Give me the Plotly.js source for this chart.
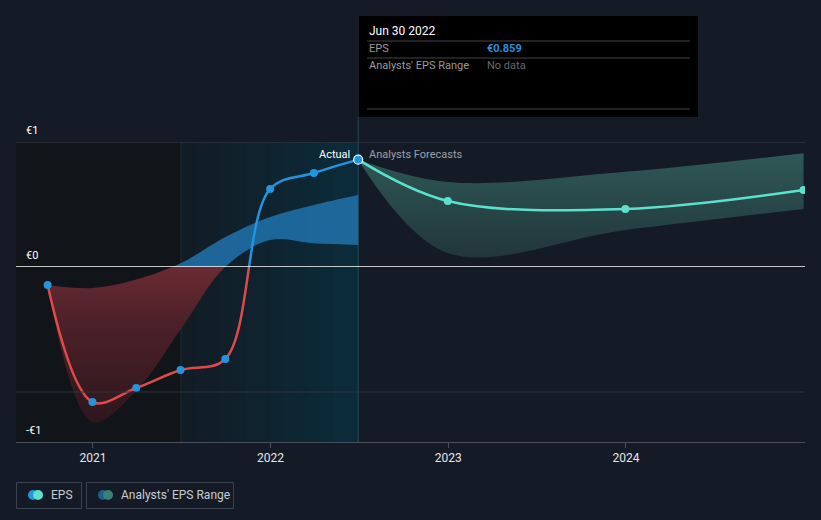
<!DOCTYPE html>
<html>
<head>
<meta charset="utf-8">
<script src="https://cdn.plot.ly/plotly-3.0.1.min.js"></script>
<style>
html,body{margin:0;padding:0;background:#151b26;}
#chart{width:821px;height:520px;}
</style>
</head>
<body>
<div id="chart"></div>
<script>
// ---- data ----
const actualDates = ['2020-09-30','2020-12-31','2021-03-31','2021-06-30','2021-09-30','2021-12-31','2022-03-31','2022-06-30'];
const actualEps   = [-0.144, -1.08, -0.968, -0.824, -0.736, 0.624, 0.752, 0.859];
const pastRangeLow  = [-0.144, -1.24, -0.99, -0.5, 0.0, 0.216, 0.19, 0.176];
const pastRangeHigh = [-0.144, -0.168, -0.1, 0.03, 0.24, 0.40, 0.496, 0.576];
const forecastDates = ['2022-06-30','2022-12-31','2023-12-31','2024-12-31'];
const forecastEps   = [0.859, 0.528, 0.464, 0.616];
const forecastLow   = [0.859, 0.112, 0.296, 0.464];
const forecastHigh  = [0.859, 0.68, 0.762, 0.91];
const xTickVals = ['2021-01-01','2022-01-01','2023-01-01','2024-01-01'];
const xTickText = ['2021','2022','2023','2024'];
const yLabels = ['€1','€0','-€1'];

// ---- styles ----
const BLUE = '#2394df', RED = '#e04a4a', TEAL = '#5ce1cf';
const FONT = 'Roboto, "Open Sans", sans-serif';

const traces = [];
// past analyst range, positive part (blue), on upper subplot
traces.push({x: actualDates, y: pastRangeLow, xaxis:'x', yaxis:'y', mode:'lines', line:{width:0, shape:'spline'}, hoverinfo:'skip'});
traces.push({x: actualDates, y: pastRangeHigh, xaxis:'x', yaxis:'y', mode:'lines', line:{width:0, shape:'spline'}, fill:'tonexty', fillcolor:'rgba(32,112,168,0.88)', hoverinfo:'skip'});
// past analyst range, negative part (red), on lower subplot
traces.push({x: actualDates, y: pastRangeLow, xaxis:'x', yaxis:'y2', mode:'lines', line:{width:0, shape:'spline'}, hoverinfo:'skip'});
traces.push({x: actualDates, y: pastRangeHigh, xaxis:'x', yaxis:'y2', mode:'lines', line:{width:0, shape:'spline'}, fill:'tonexty',
  fillgradient:{type:'vertical', colorscale:[[0,'#2e161d'],[0.45,'#4e2129'],[0.68,'#6a2a33'],[1,'#6a2a33']]}, fillcolor:'#5a2530', hoverinfo:'skip'});
// forecast range
traces.push({x: forecastDates, y: forecastLow, xaxis:'x', yaxis:'y', mode:'lines', line:{width:0, shape:'spline'}, hoverinfo:'skip'});
traces.push({x: forecastDates, y: forecastHigh, xaxis:'x', yaxis:'y', mode:'lines', line:{width:0, shape:'spline'}, fill:'tonexty',
  fillgradient:{type:'vertical', colorscale:[[0,'#21363b'],[1,'#2f5856']]}, fillcolor:'#2a4c4c', hoverinfo:'skip'});
// EPS line: blue above zero, red below zero
traces.push({x: actualDates, y: actualEps, xaxis:'x', yaxis:'y', mode:'lines', line:{color:BLUE, width:2.5, shape:'spline'}, hoverinfo:'skip'});
traces.push({x: actualDates, y: actualEps, xaxis:'x', yaxis:'y2', mode:'lines', line:{color:RED, width:2.5, shape:'spline'}, hoverinfo:'skip'});
// forecast line
traces.push({x: forecastDates, y: forecastEps, xaxis:'x', yaxis:'y', mode:'lines', line:{color:TEAL, width:2.5, shape:'spline'}, hoverinfo:'skip'});
// forecast markers (skip the first, which is the last actual)
traces.push({x: forecastDates.slice(1), y: forecastEps.slice(1), xaxis:'x', yaxis:'y', mode:'markers', marker:{color:TEAL, size:8}, hoverinfo:'skip'});
// actual markers split by sign
const posIdx = actualEps.map((v,i)=>i).filter(i=>actualEps[i] >= 0 && i < actualEps.length-1);
const negIdx = actualEps.map((v,i)=>i).filter(i=>actualEps[i] < 0);
traces.push({x: posIdx.map(i=>actualDates[i]), y: posIdx.map(i=>actualEps[i]), xaxis:'x', yaxis:'y', mode:'markers', marker:{color:BLUE, size:8}, cliponaxis:false, hoverinfo:'skip'});
traces.push({x: negIdx.map(i=>actualDates[i]), y: negIdx.map(i=>actualEps[i]), xaxis:'x', yaxis:'y2', mode:'markers', marker:{color:BLUE, size:8}, cliponaxis:false, hoverinfo:'skip'});
const li = actualEps.length-1;
traces.push({x: [actualDates[li]], y: [actualEps[li]], xaxis:'x', yaxis:'y', mode:'markers', marker:{color:BLUE, size:9, line:{color:'#ffffff', width:1.2}}, cliponaxis:false, hoverinfo:'skip'});

// ---- background shading and decorations ----
const shapes = [];
// dark past region
shapes.push({type:'rect', xref:'x', yref:'paper', x0:'2020-07-27', x1:'2021-07-01', y0:0, y1:1, fillcolor:'#111419', line:{width:0}, layer:'below'});
// teal gradient region (stripes)
const g0 = [18,28,37], g1 = [11,43,58];
const N = 14;
const t0 = new Date('2021-07-01').getTime(), t1 = new Date('2022-06-30').getTime();
for (let k=0;k<N;k++){
  const f = k/(N-1);
  const c = g0.map((v,j)=>Math.round(v+(g1[j]-v)*f));
  shapes.push({type:'rect', xref:'x', yref:'paper',
    x0: new Date(t0+(t1-t0)*k/N).toISOString().slice(0,10),
    x1: new Date(t0+(t1-t0)*(k+1)/N + 86400000).toISOString().slice(0,10),
    y0:0, y1:1, fillcolor:`rgb(${c[0]},${c[1]},${c[2]})`, line:{width:0}, layer:'below'});
}
shapes.push({type:'line', xref:'x', yref:'paper', x0:'2021-07-01', x1:'2021-07-01', y0:0, y1:1, line:{color:'#1c2c36', width:1}, layer:'below'});
// gridlines
shapes.push({type:'line', xref:'paper', yref:'y', x0:0, x1:1, y0:1, y1:1, line:{color:'#3b404b', width:1}, layer:'below'});
shapes.push({type:'line', xref:'paper', yref:'y2', x0:0, x1:1, y0:-1, y1:-1, line:{color:'#2c323d', width:1}, layer:'above'});
// zero line
shapes.push({type:'line', xref:'paper', yref:'y', x0:0, x1:1, y0:0, y1:0, line:{color:'#ffffff', width:1.5}, layer:'above'});
// vertical line at last actual
shapes.push({type:'line', xref:'x', yref:'paper', x0:'2022-06-30', x1:'2022-06-30', y0:0, y1:1.085, line:{color:'#2b4856', width:1}, layer:'below'});
// tooltip box
const px = v => (v-16)/789, py = v => (442-v)/300;
shapes.push({type:'rect', xref:'paper', yref:'paper', x0:px(359), x1:px(698), y0:py(117), y1:py(16), fillcolor:'#000000', line:{width:0}});
[41,58,109].forEach(yy=>shapes.push({type:'line', xref:'paper', yref:'paper', x0:px(367), x1:px(690), y0:py(yy), y1:py(yy), line:{color:'#444', width:1}}));
// legend boxes
shapes.push({type:'rect', xref:'paper', yref:'paper', x0:px(16.5), x1:px(81.5), y0:py(508.5), y1:py(482.5), line:{color:'#3c4350', width:1}, fillcolor:'rgba(0,0,0,0)'});
shapes.push({type:'rect', xref:'paper', yref:'paper', x0:px(86.5), x1:px(233.5), y0:py(508.5), y1:py(482.5), line:{color:'#3c4350', width:1}, fillcolor:'rgba(0,0,0,0)'});
function dot(cx, cy, r, col){
  shapes.push({type:'circle', xref:'paper', yref:'paper', x0:px(cx-r), x1:px(cx+r), y0:py(cy+r), y1:py(cy-r), fillcolor:col, line:{width:0}});
}
dot(33,495,5,BLUE); dot(38,495,5,TEAL);
dot(103,495,5,'#1d5f8a'); dot(108,495,5,'#3a8077');

const annotations = [];
const lab = (text, x, y, opts={}) => annotations.push(Object.assign({text, x, y, xref:'paper', yref:'paper', showarrow:false, xanchor:'left', yanchor:'middle', font:{family:FONT, size:11, color:'#e8e8e8'}}, opts));
lab(yLabels[0], px(24), py(130), {font:{family:FONT, size:11, color:'#ffffff'}});
lab(yLabels[1], px(24), py(255), {font:{family:FONT, size:11, color:'#ffffff'}});
lab(yLabels[2], px(24), py(430), {font:{family:FONT, size:11, color:'#ffffff'}});
lab('Actual', px(352), py(154), {xanchor:'right', font:{family:FONT, size:11, color:'#ffffff'}});
lab('Analysts Forecasts', px(367), py(154), {font:{family:FONT, size:11, color:'#9aa0a6'}});
lab('Jun 30 2022', px(367), py(31), {font:{family:FONT, size:12, color:'#ffffff'}});
lab('EPS', px(367), py(49), {font:{family:FONT, size:11, color:'#9a9a9a'}});
lab('<b>€0.859</b>', px(485), py(49), {font:{family:FONT, size:11, color:BLUE}});
lab("Analysts' EPS Range", px(367), py(66), {font:{family:FONT, size:11, color:'#9a9a9a'}});
lab('No data', px(485), py(66), {font:{family:FONT, size:11, color:'#666a6e'}});
lab('EPS', px(49), py(495), {font:{family:FONT, size:12, color:'#c8ccd2'}});
lab("Analysts' EPS Range", px(119), py(495), {font:{family:FONT, size:12, color:'#c8ccd2'}});

const zeroFrac = (442-267)/300;
const layout = {
  width:821, height:520,
  margin:{l:16, r:16, t:142, b:78, pad:0},
  paper_bgcolor:'#151b26', plot_bgcolor:'rgba(0,0,0,0)',
  showlegend:false,
  font:{family:FONT, color:'#e0e0e0'},
  xaxis:{type:'date', range:['2020-07-27','2025-01-03'], anchor:'y2',
    tickvals:xTickVals, ticktext:xTickText, ticks:'outside', ticklen:5, tickcolor:'#4a4f59', tickwidth:1,
    showline:true, linecolor:'#4a4f59', linewidth:1, showgrid:false, zeroline:false,
    tickfont:{family:FONT, size:12, color:'#e6e6e6'}},
  yaxis:{domain:[zeroFrac,1], range:[0,1], showgrid:false, zeroline:false, showticklabels:false, fixedrange:true},
  yaxis2:{domain:[0,zeroFrac], range:[-1.4,0], showgrid:false, zeroline:false, showticklabels:false, fixedrange:true},
  shapes, annotations,
  hovermode:false
};
Plotly.newPlot('chart', traces, layout, {staticPlot:true, displayModeBar:false});
</script>
</body>
</html>
